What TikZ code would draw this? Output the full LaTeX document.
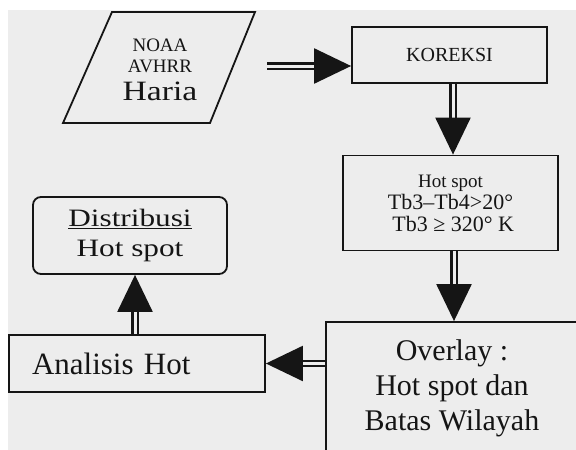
\documentclass[tikz,border=0pt]{standalone}
\usepackage{fontspec}
\setmainfont{Liberation Serif}
\usetikzlibrary{arrows.meta}
\definecolor{ink}{HTML}{151515}
\definecolor{paper}{HTML}{EDEDED}
\tikzset{
  box/.style={draw=ink, line width=1.8pt, inner sep=0pt},
  flow/.style={draw=ink, line width=2.3pt, double=paper, double distance=3pt,
    -{Triangle[length=37pt,width=35pt]}}
}
\begin{document}
\begin{tikzpicture}[x=1pt,y=-1pt]
\useasboundingbox (0,0) rectangle (576,450);
\clip (0,0) rectangle (576,450);
\fill[white] (0,0) rectangle (576,450);
\fill[paper] (8,10) rectangle (576,450);
% input parallelogram
\draw[ink, line width=1.8pt, line join=miter] (112,12) -- (255,12) -- (210,123) -- (63,123) -- cycle;
\node[align=center, inner sep=0pt, text=ink, font=\fontsize{19}{21}\selectfont] (src) at (160,70)
  {NOAA\\ AVHRR\\[7pt] {\fontsize{28}{28}\selectfont\scalebox{1.2}[1]{Haria}}};
\coordinate (srcout) at (267,66);
% boxes
\node[box, minimum width=195pt, minimum height=56pt, font=\fontsize{20}{23}\selectfont, text=ink] (kor) at (449.5,55) {KOREKSI};
\node[box, minimum width=215pt, minimum height=95pt, align=center, text=ink,
  font=\fontsize{22}{22}\selectfont] (hot) at (450.5,203)
  {{\fontsize{19}{19}\selectfont Hot spot}\\ Tb3–Tb4>20°\\ \ Tb3 ≥ 320° K};
\node[box, minimum width=274pt, minimum height=148pt] (ov) at (463,396) {};
\node[align=center, inner sep=0pt, text=ink, font=\fontsize{30}{35}\selectfont, anchor=north] (ovt) at (452,339)
  {Overlay :\\ Hot spot dan\\ Batas Wilayah};
\node[box, text width=210pt, inner xsep=23pt, minimum height=57pt, align=left, text=ink,
  font=\fontsize{31}{33}\selectfont] (an) at (137,363.5) {Analisis Hot};
\node[box, rounded corners=8pt, minimum width=194pt, minimum height=77pt, align=center, text=ink,
  font=\fontsize{25}{30}\selectfont] (dist) at (130,235.5)
  {\scalebox{1.25}[1]{\underline{Distribusi}}\\ \scalebox{1.25}[1]{Hot spot}};
% connectors
\draw[flow] (srcout) -- (srcout -| kor.west);
\draw[flow] ([xshift=3.5pt]kor.south) -- ([xshift=3.5pt]kor.south |- hot.north);
\draw[flow] ([xshift=3.5pt]hot.south) -- ([xshift=3.5pt]hot.south |- ov.north);
\draw[flow] (ov.west |- an.east) -- (an.east);
\draw[flow] ([xshift=-2pt]an.north) -- ([xshift=-2pt]an.north |- dist.south);
\end{tikzpicture}
\end{document}
